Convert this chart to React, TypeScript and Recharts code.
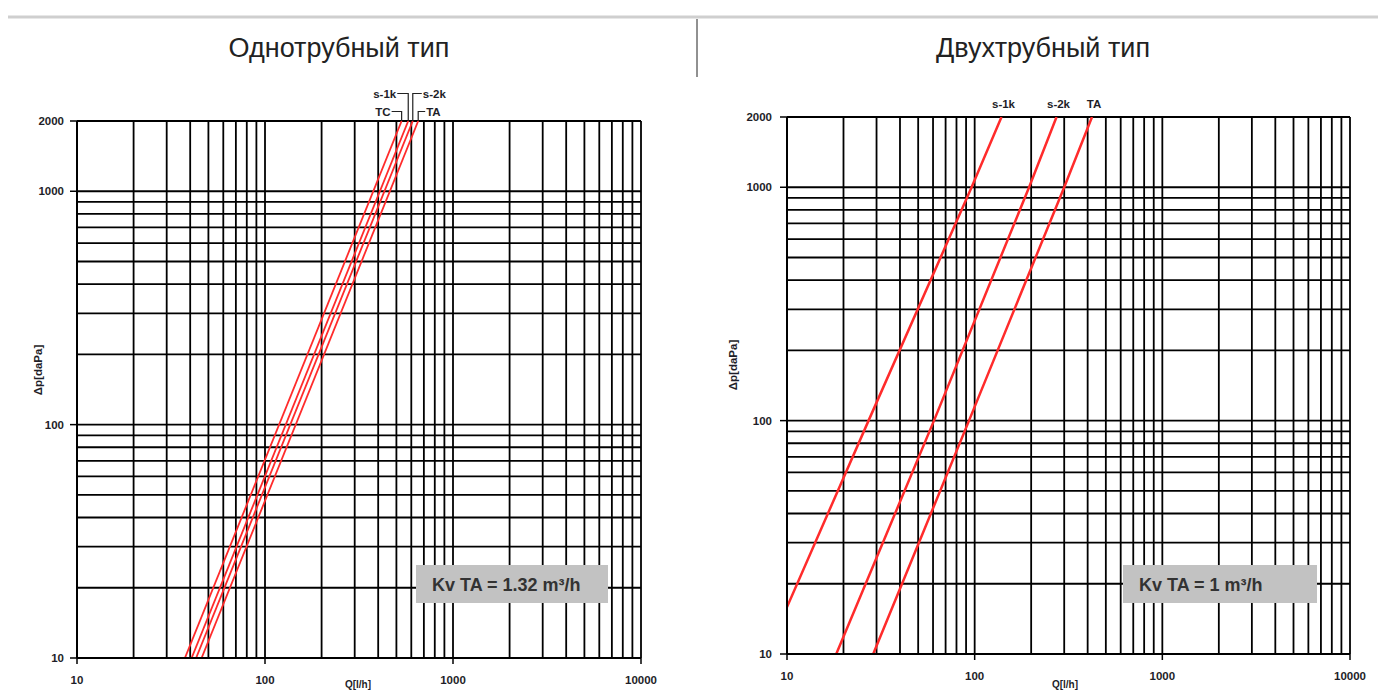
import React from "react";
import { LineChart, Line, XAxis, YAxis, ReferenceLine } from "recharts";

// ---------- data ----------
const qTicks = [10, 100, 1000, 10000];
const dpTicks = [10, 100, 1000, 2000];
const qGrid = [10, 20, 30, 40, 50, 60, 70, 80, 90, 100, 200, 300, 400, 500, 600, 700, 800, 900, 1000, 2000, 3000, 4000, 5000, 6000, 7000, 8000, 9000, 10000];
const dpGrid = [10, 20, 30, 40, 50, 60, 70, 80, 90, 100, 200, 300, 400, 500, 600, 700, 800, 900, 1000, 2000];

// single-pipe (Однотрубный) series: Q [l/h] vs Δp [daPa]
const monoNames = ["TC", "s-1k", "s-2k", "TA"];
const monoTC = [{ q: 37.5, dp: 10 }, { q: 533, dp: 2000 }];
const monoS1k = [{ q: 40.7, dp: 10 }, { q: 578, dp: 2000 }];
const monoS2k = [{ q: 43, dp: 10 }, { q: 611, dp: 2000 }];
const monoTA = [{ q: 46, dp: 10 }, { q: 653, dp: 2000 }];

// two-pipe (Двухтрубный) series
const biNames = ["s-1k", "s-2k", "TA"];
const biS1k = [{ q: 10, dp: 15.9 }, { q: 27.2, dp: 100 }, { q: 96.3, dp: 1000 }, { q: 139, dp: 2000 }];
const biS2k = [{ q: 18.3, dp: 10 }, { q: 60.7, dp: 100 }, { q: 195, dp: 1000 }, { q: 273, dp: 2000 }];
const biTA = [{ q: 28.8, dp: 10 }, { q: 93.3, dp: 100 }, { q: 300, dp: 1000 }, { q: 422, dp: 2000 }];

const titles = ["Однотрубный тип", "Двухтрубный тип"];
const kvLabels = ["Kv TA = 1.32 m³/h", "Kv TA = 1 m³/h"];
const yTitle = "Δp[daPa]";
const xTitle = "Q[l/h]";

// ---------- styles / layout ----------
const FONT = '"Liberation Sans", Arial, sans-serif';
const RED = "#ff2b2b";
const INK = "#1e1e28";

// label leader layout for single-pipe chart (side, row-offset above top, gap)
const monoLabelLayout = [
  { side: "left", rise: 9.5, gap: 10 },
  { side: "left", rise: 27.5, gap: 11 },
  { side: "right", rise: 27.5, gap: 9 },
  { side: "right", rise: 9.5, gap: 7 },
];

const YTick = (props: any) => {
  const { x, y, payload } = props;
  return (
    <text x={x} y={y} dy={4} textAnchor="end" fontFamily={FONT} fontWeight="bold" fontSize={11.5} fill={INK}>
      {payload.value}
    </text>
  );
};
const XTick = (props: any) => {
  const { x, y, payload } = props;
  return (
    <text x={x} y={y} dy={4} textAnchor="middle" fontFamily={FONT} fontWeight="bold" fontSize={11.5} fill={INK}>
      {payload.value}
    </text>
  );
};

const makeMonoLabel = (name: string, idx: number, len: number) => (p: any) => {
  if (p.index !== len - 1) return <g />;
  const L = monoLabelLayout[idx];
  const x = p.x, y = p.y;
  const ly = y - L.rise;
  const tx = L.side === "left" ? x - L.gap : x + L.gap;
  return (
    <g>
      <path d={`M${x},${y} L${x},${ly} L${tx},${ly}`} stroke="#222" strokeWidth={1.2} fill="none" />
      <text x={L.side === "left" ? tx - 1 : tx + 1} y={ly} dy={4} textAnchor={L.side === "left" ? "end" : "start"}
        fontFamily={FONT} fontWeight="bold" fontSize={11.5} fill={INK}>{name}</text>
    </g>
  );
};

const makeBiLabel = (name: string, len: number) => (p: any) => {
  if (p.index !== len - 1) return <g />;
  return (
    <text x={p.x + 2} y={p.y - 9} textAnchor="middle" fontFamily={FONT} fontWeight="bold" fontSize={11.5} fill={INK}>{name}</text>
  );
};

function Chart(props: any) {
  const { width, height, margin, yWidth, xHeight, series, yTickMargin, xTickMargin, lineWidth } = props;
  return (
    <LineChart width={width} height={height} margin={margin}>
      <XAxis type="number" dataKey="q" scale="log" domain={[10, 10000]} ticks={qTicks} allowDataOverflow
        height={xHeight} tickSize={6} tickMargin={xTickMargin} tick={<XTick />}
        axisLine={{ stroke: "#000", strokeWidth: 2 }} tickLine={{ stroke: "#000", strokeWidth: 1.5 }} />
      <YAxis type="number" dataKey="dp" scale="log" domain={[10, 2000]} ticks={dpTicks} allowDataOverflow
        width={yWidth} tickSize={7} tickMargin={yTickMargin} tick={<YTick />}
        axisLine={{ stroke: "#000", strokeWidth: 2 }} tickLine={{ stroke: "#000", strokeWidth: 1.5 }} />
      {qGrid.map((v) => (
        <ReferenceLine key={"x" + v} x={v} stroke="#000" strokeWidth={1.8} />
      ))}
      {dpGrid.map((v) => (
        <ReferenceLine key={"y" + v} y={v} stroke="#000" strokeWidth={1.8} />
      ))}
      {series.map((s: any) => (
        <Line key={s.key} data={s.data} dataKey="dp" type="linear" stroke={RED} strokeWidth={lineWidth}
          dot={false} activeDot={false} isAnimationActive={false} label={s.label} />
      ))}
    </LineChart>
  );
}

export default function App() {
  const monoData = [monoTC, monoS1k, monoS2k, monoTA];
  const biData = [biS1k, biS2k, biTA];
  const monoSeries = monoData.map((d, i) => ({ key: "m" + i, data: d, label: makeMonoLabel(monoNames[i], i, d.length) }));
  const biSeries = biData.map((d, i) => ({ key: "b" + i, data: d, label: makeBiLabel(biNames[i], d.length) }));

  return (
    <div style={{ position: "absolute", left: 0, top: 0, width: 1378, height: 691, background: "#fff", overflow: "hidden", fontFamily: FONT }}>
      <div style={{ position: "absolute", left: 0, top: 0 }}>
        <Chart width={700} height={691} margin={{ top: 121, right: 59, bottom: 0, left: 0 }} yWidth={77} xHeight={33}
          series={monoSeries} yTickMargin={6} xTickMargin={16} lineWidth={1.8} />
      </div>
      <div style={{ position: "absolute", left: 700, top: 0 }}>
        <Chart width={678} height={691} margin={{ top: 117, right: 28, bottom: 0, left: 0 }} yWidth={87} xHeight={37}
          series={biSeries} yTickMargin={8} xTickMargin={16} lineWidth={2.5} />
      </div>
      <svg width={1378} height={691} style={{ position: "absolute", left: 0, top: 0, pointerEvents: "none" }}>
        <line x1={8} y1={17} x2={1378} y2={17} stroke="#cfcfcf" strokeWidth={3} />
        <line x1={697} y1={19} x2={697} y2={77} stroke="#222" strokeWidth={1} />
        <text x={339} y={57} textAnchor="middle" fontFamily={FONT} fontSize={27} fill="#222">{titles[0]}</text>
        <text x={1043} y={57} textAnchor="middle" fontFamily={FONT} fontSize={27} fill="#222">{titles[1]}</text>

        <text x={38} y={370} transform="rotate(-90 38 370)" textAnchor="middle" dy={4} fontFamily={FONT} fontWeight="bold" fontSize={11.5} fill={INK}>{yTitle}</text>
        <text x={733} y={365} transform="rotate(-90 733 365)" textAnchor="middle" dy={4} fontFamily={FONT} fontWeight="bold" fontSize={11.5} fill={INK}>{yTitle}</text>
        <text x={358} y={688} textAnchor="middle" fontFamily={FONT} fontWeight="bold" fontSize={10} fill={INK}>{xTitle}</text>
        <text x={1065} y={688} textAnchor="middle" fontFamily={FONT} fontWeight="bold" fontSize={10} fill={INK}>{xTitle}</text>

        <rect x={416} y={565} width={192} height={38} fill="#c2c2c2" />
        <text x={432} y={591} fontFamily={FONT} fontWeight="bold" fontSize={18} fill="#333">{kvLabels[0]}</text>
        <rect x={1123} y={565} width={194} height={38} fill="#c2c2c2" />
        <text x={1139} y={591} fontFamily={FONT} fontWeight="bold" fontSize={18} fill="#333">{kvLabels[1]}</text>
      </svg>
    </div>
  );
}
